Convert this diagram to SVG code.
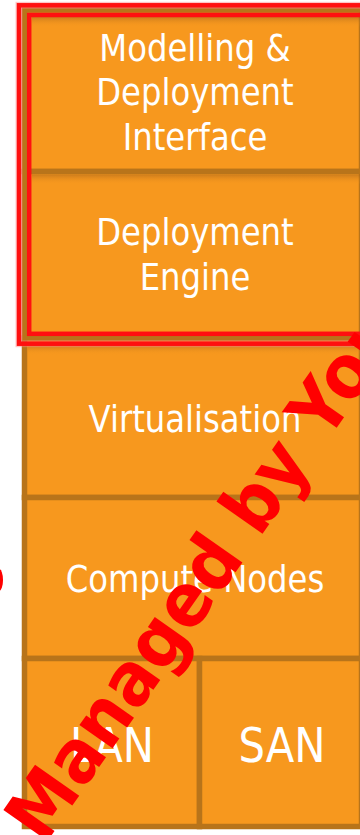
<svg xmlns="http://www.w3.org/2000/svg" width="360" height="835" viewBox="0 0 360 835">
<defs>
<style>
.box{fill:#F7981E;stroke:#B8741A;stroke-width:5.5}
.lbl{font-family:"DejaVu Sans","Liberation Sans",sans-serif;font-size:38px;fill:#fff;text-anchor:middle}
.big{font-size:48px}
.frame{fill:none;stroke:#FF1010;stroke-width:4.5}
.glow{fill:none;stroke:#FF8080;stroke-width:7;stroke-opacity:0.45}
.wm{font-family:"DejaVu Sans","Liberation Sans",sans-serif;font-weight:bold;font-size:74px;fill:#FF0000}
</style>
<linearGradient id="sh" x1="0" y1="0" x2="0" y2="1">
<stop offset="0" stop-color="#A8651A" stop-opacity="0.55"/>
<stop offset="1" stop-color="#F7981E" stop-opacity="0"/>
</linearGradient>
</defs>
<rect width="360" height="835" fill="#fff"/>
<g id="modelling">
<rect class="box" x="24.5" y="10" width="337" height="161.5"/>
</g>
<g id="engine">
<rect class="box" x="24.5" y="171.5" width="337" height="166.5"/>
</g>
<g id="virtualisation">
<rect class="box" x="24.5" y="338" width="337" height="159.5"/>
</g>
<g id="compute">
<rect class="box" x="24.5" y="497.5" width="337" height="161"/>
</g>
<g id="lan">
<rect class="box" x="24.5" y="658.5" width="175" height="168"/>
</g>
<g id="san">
<rect class="box" x="199.5" y="658.5" width="162" height="168"/>
</g>
<g id="shadows">
<rect x="32" y="17" width="330" height="10" fill="url(#sh)"/>
<rect x="32" y="174.5" width="330" height="10" fill="url(#sh)"/>
<rect x="27.5" y="345" width="334" height="10" fill="url(#sh)"/>
</g>
<g id="labels">
<text class="lbl" transform="translate(195,61) scale(0.85,1)"><tspan x="0" y="0">Modelling &amp;</tspan><tspan x="0" y="44.5">Deployment</tspan><tspan x="0" y="89">Interface</tspan></text>
<text class="lbl" transform="translate(195,245) scale(0.85,1)"><tspan x="0" y="0">Deployment</tspan><tspan x="0" y="45">Engine</tspan></text>
<text class="lbl" transform="translate(195,432) scale(0.85,1)">Virtualisation</text>
<text class="lbl" transform="translate(195,592) scale(0.85,1)">Compute Nodes</text>
<text class="lbl big" transform="translate(112,762) scale(0.87,1)">LAN</text>
<text class="lbl big" transform="translate(282,762) scale(0.87,1)">SAN</text>
</g>
<g id="managed-frame">
<rect class="glow" x="19" y="5.3" width="360" height="338.4"/>
<rect class="frame" x="19" y="5.3" width="360" height="338.4"/>
<rect class="frame" x="29.2" y="15" width="340" height="318.8"/>
</g>
<g id="watermark">
<text class="wm" transform="translate(44,846) rotate(-55) scale(0.92,1)">Managed by You</text>
<ellipse cx="-1" cy="580" rx="4" ry="11" fill="#FF0000"/>
</g>
</svg>
